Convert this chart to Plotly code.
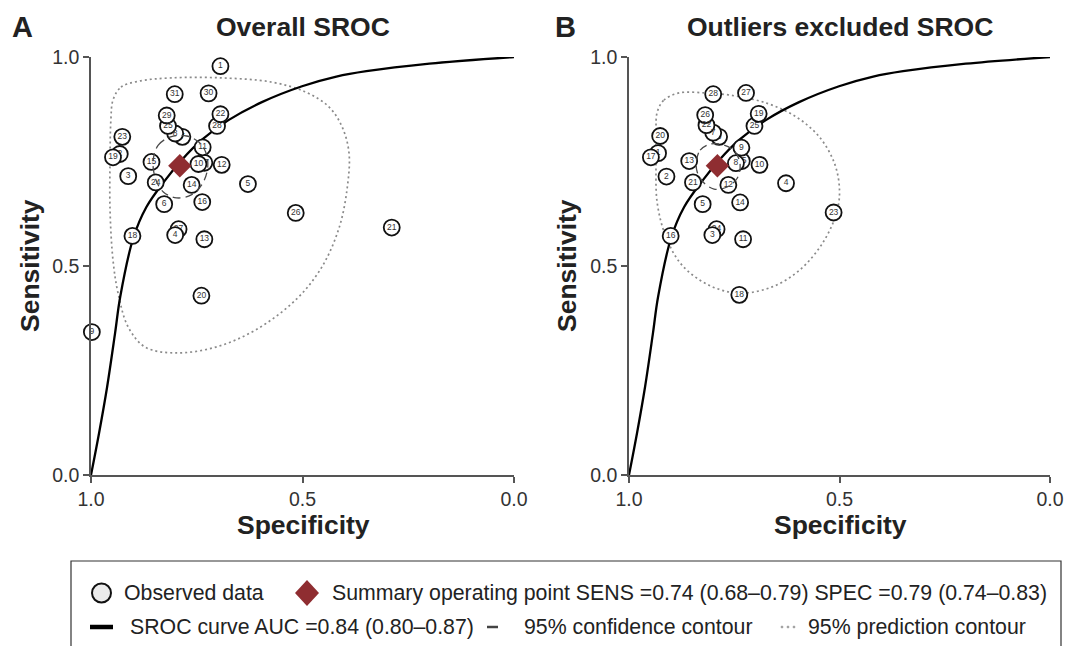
import plotly.graph_objects as go

# ---------------- data ----------------
# Panel A: all studies (study label, specificity, sensitivity); the first five lie partly hidden
a_labels = ["2", "7", "17", "27", "28", "1", "3", "4", "5", "6", "8", "9", "10", "11", "12", "13",
            "14", "15", "16", "18", "19", "20", "21", "22", "23", "24", "25", "26", "29", "30", "31"]
a_spec = [0.932, 0.784, 0.732, 0.793, 0.702, 0.694, 0.912, 0.801, 0.629, 0.827, 0.801, 0.998, 0.746,
          0.736, 0.691, 0.732, 0.762, 0.857, 0.737, 0.902, 0.948, 0.739, 0.289, 0.694, 0.926, 0.847,
          0.818, 0.516, 0.821, 0.722, 0.802]
a_sens = [0.768, 0.809, 0.747, 0.588, 0.835, 0.978, 0.715, 0.574, 0.696, 0.648, 0.817, 0.342, 0.744,
          0.784, 0.742, 0.564, 0.694, 0.749, 0.653, 0.572, 0.760, 0.429, 0.592, 0.863, 0.809, 0.700,
          0.835, 0.627, 0.860, 0.913, 0.911]

# Panel B: outliers excluded; the first five lie partly hidden
b_labels = ["1", "6", "15", "24", "25", "2", "3", "4", "5", "7", "8", "9", "10", "11", "12", "13",
            "14", "16", "17", "18", "19", "20", "21", "22", "23", "26", "27", "28"]
b_spec = [0.931, 0.786, 0.732, 0.792, 0.702, 0.911, 0.802, 0.627, 0.825, 0.800, 0.746, 0.733, 0.690,
          0.729, 0.764, 0.857, 0.736, 0.901, 0.948, 0.738, 0.692, 0.926, 0.848, 0.816, 0.514, 0.819,
          0.722, 0.800]
b_sens = [0.770, 0.809, 0.751, 0.588, 0.835, 0.714, 0.574, 0.698, 0.648, 0.819, 0.746, 0.783, 0.742,
          0.564, 0.694, 0.751, 0.652, 0.572, 0.760, 0.431, 0.864, 0.811, 0.700, 0.837, 0.628, 0.861,
          0.914, 0.911]
n_hidden = 5

# Summary operating point
summary_spec = 0.79
summary_sens = 0.74

# SROC curve
sroc_spec = [1.000, 0.981, 0.962, 0.943, 0.931, 0.900, 0.869, 0.824, 0.786, 0.739, 0.675, 0.596,
             0.501, 0.420, 0.349, 0.200, 0.000]
sroc_sens = [0.000, 0.100, 0.210, 0.340, 0.426, 0.567, 0.641, 0.706, 0.753, 0.801, 0.849, 0.892,
             0.930, 0.953, 0.966, 0.984, 1.000]

# 95% confidence contours
conf_a_spec = [0.853, 0.841, 0.812, 0.774, 0.746, 0.729, 0.724, 0.736, 0.763, 0.798, 0.829, 0.848, 0.853]
conf_a_sens = [0.753, 0.789, 0.809, 0.811, 0.797, 0.773, 0.737, 0.698, 0.670, 0.663, 0.677, 0.710, 0.753]
conf_b_spec = [0.840, 0.831, 0.805, 0.774, 0.748, 0.736, 0.743, 0.767, 0.798, 0.824, 0.838, 0.840]
conf_b_sens = [0.749, 0.777, 0.792, 0.789, 0.773, 0.742, 0.710, 0.689, 0.684, 0.701, 0.725, 0.749]

# 95% prediction contours
pred_a_spec = [0.948, 0.929, 0.888, 0.810, 0.691, 0.573, 0.492, 0.437, 0.406, 0.390, 0.394, 0.413,
               0.454, 0.516, 0.611, 0.705, 0.800, 0.872, 0.912, 0.936, 0.948, 0.955, 0.955, 0.953, 0.948]
pred_a_sens = [0.897, 0.928, 0.942, 0.950, 0.950, 0.940, 0.916, 0.880, 0.832, 0.770, 0.689, 0.593,
               0.498, 0.419, 0.347, 0.306, 0.292, 0.306, 0.354, 0.435, 0.514, 0.634, 0.753, 0.849, 0.897]
pred_b_spec = [0.933, 0.917, 0.881, 0.817, 0.762, 0.674, 0.602, 0.548, 0.512, 0.500, 0.507, 0.540,
               0.595, 0.660, 0.738, 0.810, 0.874, 0.912, 0.933, 0.936, 0.936, 0.933]
pred_b_sens = [0.868, 0.897, 0.914, 0.914, 0.909, 0.890, 0.856, 0.809, 0.746, 0.682, 0.627, 0.555,
               0.490, 0.450, 0.435, 0.454, 0.502, 0.569, 0.651, 0.746, 0.825, 0.868]

tick_vals = [0.0, 0.5, 1.0]
tick_text = ["0.0", "0.5", "1.0"]

# ---------------- layout helpers ----------------
W, H = 1069, 646
FONT = "Liberation Sans, Arial, sans-serif"
RED = "#8f2d31"


def px(x):
    return x / W


def py(y):
    return 1 - y / H


fig = go.Figure()


def study_trace(xa, ya, lab, sx, sy):
    return go.Scatter(x=sx, y=sy, mode="markers+text", text=lab, textposition="middle center",
                      textfont=dict(size=8.5, color="#333", family=FONT), xaxis=xa, yaxis=ya,
                      marker=dict(size=16, color="white", line=dict(color="#111", width=1.8)),
                      cliponaxis=False, showlegend=False)


def add_panel(xa, ya, lab, sx, sy, cs, cy, ps, pys):
    fig.add_trace(go.Scatter(x=ps, y=pys, mode="lines", xaxis=xa, yaxis=ya,
                             line=dict(color="#8a8a8a", width=1.7, dash="2px,3px", shape="spline",
                                       smoothing=1.0),
                             hoverinfo="skip", showlegend=False))
    fig.add_trace(go.Scatter(x=sroc_spec, y=sroc_sens, mode="lines", xaxis=xa, yaxis=ya,
                             line=dict(color="black", width=2.3, shape="spline", smoothing=1.0),
                             hoverinfo="skip", showlegend=False))
    fig.add_trace(study_trace(xa, ya, lab[:n_hidden], sx[:n_hidden], sy[:n_hidden]))
    fig.add_trace(study_trace(xa, ya, lab[n_hidden:], sx[n_hidden:], sy[n_hidden:]))
    fig.add_trace(go.Scatter(x=cs, y=cy, mode="lines", xaxis=xa, yaxis=ya,
                             line=dict(color="#4a4a4a", width=1.3, dash="8px,5px", shape="spline",
                                       smoothing=1.0),
                             hoverinfo="skip", showlegend=False))
    fig.add_trace(go.Scatter(x=[summary_spec], y=[summary_sens], mode="markers", xaxis=xa, yaxis=ya,
                             marker=dict(symbol="diamond", size=18, color=RED,
                                         line=dict(color=RED, width=0)),
                             cliponaxis=False, showlegend=False))


add_panel("x", "y", a_labels, a_spec, a_sens, conf_a_spec, conf_a_sens, pred_a_spec, pred_a_sens)
add_panel("x2", "y2", b_labels, b_spec, b_sens, conf_b_spec, conf_b_sens, pred_b_spec, pred_b_sens)

axis_common = dict(showgrid=False, zeroline=False, showline=True, linecolor="#555",
                   linewidth=1.5, ticks="outside", ticklen=6, tickwidth=1.5, tickcolor="#555",
                   tickvals=tick_vals, ticktext=tick_text, automargin=False,
                   tickfont=dict(size=19.5, color="#333", family=FONT))

xa = dict(axis_common, range=[1.0, 0.0], domain=[px(91), px(514)], anchor="y")
ya = dict(axis_common, range=[0.0, 1.0], domain=[py(475), py(57)], anchor="x")
xb = dict(axis_common, range=[1.0, 0.0], domain=[px(629), px(1050)], anchor="y2")
yb = dict(axis_common, range=[0.0, 1.0], domain=[py(475), py(57)], anchor="x2")

annotations = []


def text(x, y, s, size, bold=False, angle=0, anchor="center"):
    annotations.append(dict(x=px(x), y=py(y), xref="paper", yref="paper",
                            text=("<b>%s</b>" % s) if bold else s,
                            showarrow=False, textangle=angle, xanchor=anchor, yanchor="middle",
                            font=dict(size=size, color="#222", family=FONT)))


text(22, 27, "A", 29, bold=True)
text(303, 27, "Overall SROC", 26.5, bold=True)
text(565, 27, "B", 29, bold=True)
text(840, 27, "Outliers excluded SROC", 26.5, bold=True)
text(30, 266, "Sensitivity", 26.5, bold=True, angle=-90)
text(567, 266, "Sensitivity", 26.5, bold=True, angle=-90)
text(303, 525, "Specificity", 26.5, bold=True)
text(840, 525, "Specificity", 26.5, bold=True)

# legend texts
text(122, 593, "Observed data", 21.3, anchor="left")
text(330, 593, "Summary operating point SENS =0.74 (0.68–0.79) SPEC =0.79 (0.74–0.83)", 21.3, anchor="left")
text(128, 627, "SROC curve AUC =0.84 (0.80–0.87)", 21.3, anchor="left")
text(522, 627, "95% confidence contour", 21.3, anchor="left")
text(806, 627, "95% prediction contour", 21.3, anchor="left")

shapes = [
    dict(type="rect", xref="paper", yref="paper", x0=px(71), x1=px(1061), y0=py(652), y1=py(561),
         line=dict(color="#333", width=1.2), fillcolor="rgba(0,0,0,0)"),
    dict(type="circle", xref="paper", yref="paper", x0=px(92), x1=px(111), y0=py(602.5), y1=py(583.5),
         line=dict(color="#111", width=2), fillcolor="#ececec"),
    dict(type="path", xref="paper", yref="paper",
         path="M %f,%f L %f,%f L %f,%f L %f,%f Z" % (px(307), py(580), px(319), py(593), px(307), py(606),
                                                     px(295), py(593)),
         line=dict(color=RED, width=0), fillcolor=RED),
    dict(type="line", xref="paper", yref="paper", x0=px(90), x1=px(113), y0=py(627), y1=py(627),
         line=dict(color="black", width=4.5)),
    dict(type="line", xref="paper", yref="paper", x0=px(487), x1=px(498), y0=py(627), y1=py(627),
         line=dict(color="#444", width=2.5)),
]
for dx in (782, 788, 794):
    shapes.append(dict(type="circle", xref="paper", yref="paper", x0=px(dx - 1.1), x1=px(dx + 1.1),
                       y0=py(628.1), y1=py(625.9), line=dict(color="#999", width=0.5), fillcolor="#999"))

fig.update_layout(width=W, height=H, margin=dict(l=0, r=0, t=0, b=0, autoexpand=False),
                  paper_bgcolor="white", plot_bgcolor="white", xaxis=xa, yaxis=ya, xaxis2=xb, yaxis2=yb,
                  annotations=annotations, shapes=shapes, showlegend=False)

fig.write_html("out.html",
               post_script="document.body.style.margin='0';document.body.style.padding='0';"
                           "document.body.style.overflow='hidden';")
